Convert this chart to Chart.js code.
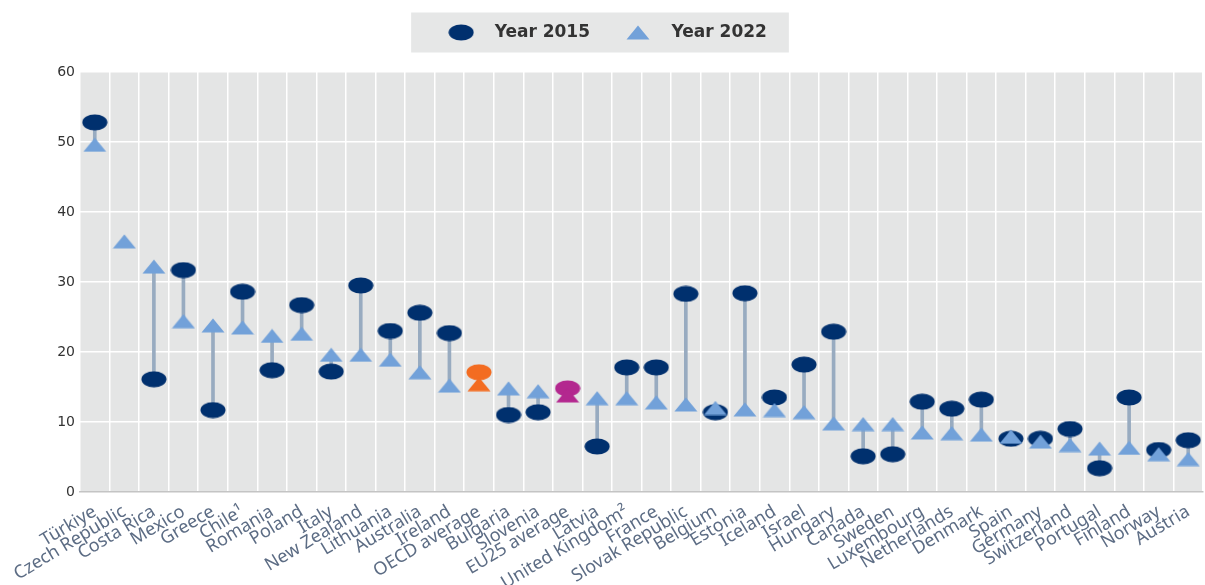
<!DOCTYPE html>
<html>
<head>
<meta charset="utf-8">
<title>2015 vs 2022</title>
<script src="https://cdn.jsdelivr.net/npm/chart.js"></script>
<style>
  * { margin: 0; padding: 0; box-sizing: border-box; }
  body { background: #fff; width: 1205px; height: 585px; overflow: hidden; }
  #wrap { position: relative; width: 1205px; height: 585px; }
</style>
</head>
<body>
<div id="wrap"><canvas id="chart"></canvas></div>
<script>
const categories = ['Türkiye', 'Czech Republic', 'Costa Rica', 'Mexico', 'Greece', 'Chile\u00b9', 'Romania', 'Poland', 'Italy',
  'New Zealand', 'Lithuania', 'Australia', 'Ireland', 'OECD average', 'Bulgaria', 'Slovenia', 'EU25 average', 'Latvia',
  'United Kingdom\u00b2', 'France', 'Slovak Republic', 'Belgium', 'Estonia', 'Iceland', 'Israel', 'Hungary', 'Canada',
  'Sweden', 'Luxembourg', 'Netherlands', 'Denmark', 'Spain', 'Germany', 'Switzerland', 'Portugal', 'Finland', 'Norway', 'Austria'];
const year2015 = [52.8, null, 16.1, 31.7, 11.7, 28.6, 17.4, 26.7, 17.2, 29.5, 23.0, 25.6, 22.7, 17.1, 11.0, 11.4, 14.8, 6.5,
  17.8, 17.8, 28.3, 11.4, 28.4, 13.5, 18.2, 22.9, 5.1, 5.4, 12.9, 11.9, 13.2, 7.6, 7.6, 9.0, 3.4, 13.5, 6.0, 7.4];
const year2022 = [49.6, 35.8, 32.2, 24.4, 23.8, 23.5, 22.3, 22.6, 19.6, 19.6, 18.9, 17.1, 15.2, 15.4, 14.8, 14.4, 13.8, 13.4,
  13.4, 12.8, 12.5, 12.0, 11.8, 11.7, 11.4, 9.8, 9.7, 9.7, 8.5, 8.4, 8.2, 7.9, 7.2, 6.7, 6.2, 6.3, 5.4, 4.7];
const yTicks = [0, 10, 20, 30, 40, 50, 60];

const NAVY = '#00306e', LIGHT = '#72a1d9', ORANGE = '#f36c21', MAGENTA = '#b3288f', STEM = '#98abc0';
const special = { 'OECD average': ORANGE, 'EU25 average': MAGENTA };

function ellipse(color) {
  const c = document.createElement('canvas');
  c.width = 26; c.height = 17;
  const g = c.getContext('2d');
  g.fillStyle = color;
  g.beginPath();
  g.ellipse(13, 8.5, 12.5, 8, 0, 0, Math.PI * 2);
  g.fill();
  return c;
}
function triangle(color) {
  const c = document.createElement('canvas');
  c.width = 24; c.height = 15;
  const g = c.getContext('2d');
  g.fillStyle = color;
  g.beginPath();
  g.moveTo(12, 0.5); g.lineTo(23.5, 14.5); g.lineTo(0.5, 14.5);
  g.closePath();
  g.fill();
  return c;
}
const dots = { navy: ellipse(NAVY), [ORANGE]: ellipse(ORANGE), [MAGENTA]: ellipse(MAGENTA) };
const tris = { light: triangle(LIGHT), [ORANGE]: triangle(ORANGE), [MAGENTA]: triangle(MAGENTA) };

const stems = categories.map((c, i) =>
  year2015[i] == null || year2022[i] == null ? null : [Math.min(year2015[i], year2022[i]), Math.max(year2015[i], year2022[i])]);

// grey plot area + grey box behind the legend, and some room under the legend
const backdrop = {
  id: 'backdrop',
  beforeInit(chart) {
    const fit = chart.legend.fit;
    chart.legend.fit = function () { fit.call(this); this.height += 21; };
  },
  beforeDraw(chart) {
    const { ctx, chartArea: a, legend } = chart;
    ctx.save();
    ctx.fillStyle = '#e4e5e5';
    ctx.fillRect(a.left, a.top, a.right - a.left, a.bottom - a.top);
    const boxes = legend.legendHitBoxes;
    if (boxes && boxes.length) {
      const l = Math.min(...boxes.map(b => b.left)), r = Math.max(...boxes.map(b => b.left + b.width));
      const cy = boxes[0].top + boxes[0].height / 2;
      ctx.fillStyle = '#e6e7e7';
      ctx.fillRect(l - 25, cy - 20, r - l + 47, 40);
    }
    ctx.restore();
  }
};

new Chart(document.getElementById('chart'), {
  type: 'line',
  data: {
    labels: categories,
    datasets: [
      {
        label: 'Year 2015', type: 'line', data: year2015, showLine: false, order: 1,
        pointStyle: ctx => dots[special[categories[ctx.dataIndex]]] || dots.navy,
        pointRadius: 9, pointHoverRadius: 9
      },
      {
        label: 'Year 2022', type: 'line', data: year2022, showLine: false, order: 0,
        pointStyle: ctx => tris[special[categories[ctx.dataIndex]]] || tris.light,
        pointRadius: 9, pointHoverRadius: 9
      },
      {
        label: 'stem', type: 'bar', data: stems, order: 2,
        backgroundColor: STEM, barThickness: 3, borderWidth: 0
      }
    ]
  },
  options: {
    responsive: true,
    maintainAspectRatio: false,
    animation: false,
    layout: { autoPadding: false, padding: { left: 0, right: 2, top: 1, bottom: 0 } },
    scales: {
      x: {
        type: 'category', offset: true,
        afterFit: scale => { scale.height = 93; scale.paddingRight = 0; },
        grid: { offset: true, color: '#ffffff', lineWidth: 1.5, drawTicks: false },
        border: { display: true, color: '#c4c4c4', width: 1.5 },
        ticks: {
          autoSkip: false, maxRotation: 31, minRotation: 31, padding: 9,
          color: '#5c6c84', font: { family: 'Noto Sans', size: 18 }
        }
      },
      y: {
        min: 0, max: 60,
        afterFit: scale => { scale.width = 80; },
        afterBuildTicks: axis => { axis.ticks = yTicks.map(v => ({ value: v })); },
        grid: { color: '#ffffff', lineWidth: 1.5, drawTicks: false },
        border: { display: false },
        ticks: { padding: 5, color: '#333333', font: { family: 'DejaVu Sans', size: 14 } }
      }
    },
    plugins: {
      legend: {
        position: 'top',
        labels: {
          filter: item => item.text !== 'stem',
          sort: (a, b) => a.datasetIndex - b.datasetIndex,
          usePointStyle: true, pointStyleWidth: 50, padding: 23,
          color: '#333333', font: { family: 'DejaVu Sans', size: 17, weight: 'bold' }
        }
      },
      tooltip: { enabled: false }
    }
  },
  plugins: [backdrop]
});
</script>
</body>
</html>
